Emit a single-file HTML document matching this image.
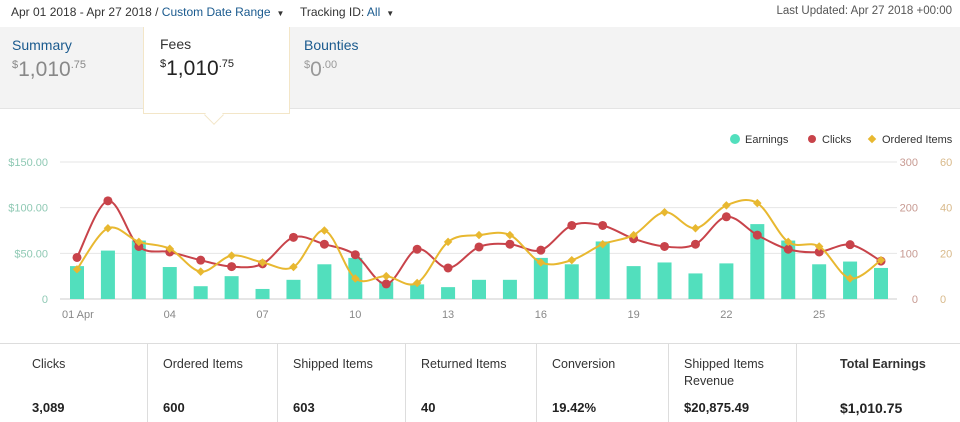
<!DOCTYPE html>
<html><head><meta charset="utf-8"><style>
*{margin:0;padding:0;box-sizing:border-box}
body{width:960px;height:422px;background:#fff;font-family:"Liberation Sans",sans-serif;color:#333;position:relative;overflow:hidden}
.a{position:absolute;white-space:nowrap}
.blue{color:#1a5a8e}
.stat{position:absolute;top:344px;height:78px;border-left:1px solid #ddd}
.stat .l{position:absolute;left:15px;top:12px;font-size:12.5px;color:#333;line-height:17px}
.stat .v{position:absolute;left:15px;top:56px;font-size:13px;font-weight:bold;color:#222}
</style></head><body>
<div class="a" style="left:11px;top:5px;font-size:12px">Apr 01 2018 - Apr 27 2018 / <span class="blue">Custom Date Range</span><span style="font-size:8px;margin-left:6px">▼</span></div>
<div class="a" style="left:300px;top:5px;font-size:12px">Tracking ID: <span class="blue">All</span><span style="font-size:8px;margin-left:6px">▼</span></div>
<div class="a" style="right:8px;top:5px;font-size:11.5px;color:#555">Last Updated: Apr 27 2018 +00:00</div>
<div class="a" style="left:0;top:27px;width:960px;height:82px;background:#f3f3f3;border-bottom:1px solid #e4e4e4"></div>
<div class="a" style="left:12px;top:37px">
<div class="blue" style="font-size:14px">Summary</div>
<div style="color:#888;font-size:21px;margin-top:5px"><sup style="font-size:11px">$</sup>1,010<sup style="font-size:11px">.75</sup></div></div>
<div class="a" style="left:143px;top:27px;width:147px;height:87px;background:#fff;border:1px solid #f3e6c8;border-top:none;padding:9px 0 0 16px">
<div style="font-size:14px">Fees</div>
<div style="color:#222;font-size:21px;margin-top:5px"><sup style="font-size:11px">$</sup>1,010<sup style="font-size:11px">.75</sup></div></div>
<div class="a" style="left:207px;top:108px;width:14px;height:14px;background:#fff;border-right:1px solid #f3e6c8;border-bottom:1px solid #f3e6c8;transform:rotate(45deg)"></div>
<div class="a" style="left:304px;top:37px">
<div class="blue" style="font-size:14px">Bounties</div>
<div style="color:#999;font-size:21px;margin-top:5px"><sup style="font-size:11px">$</sup>0<sup style="font-size:11px">.00</sup></div></div>

<svg id="chart" class="a" style="left:0;top:120px" width="960" height="220"></svg>

<div class="stat" style="left:17px;width:128px;border-left:none"><div class="l">Clicks</div><div class="v">3,089</div></div>
<div class="stat" style="left:147px;width:128px"><div class="l">Ordered Items</div><div class="v">600</div></div>
<div class="stat" style="left:277px;width:128px"><div class="l">Shipped Items</div><div class="v">603</div></div>
<div class="stat" style="left:405px;width:130px"><div class="l">Returned Items</div><div class="v">40</div></div>
<div class="stat" style="left:536px;width:128px"><div class="l">Conversion</div><div class="v">19.42%</div></div>
<div class="stat" style="left:668px;width:128px"><div class="l">Shipped Items<br>Revenue</div><div class="v">$20,875.49</div></div>
<div class="stat" style="left:796px;width:164px"><div class="l" style="left:43px;font-weight:bold">Total Earnings</div><div class="v" style="left:43px;font-size:14px">$1,010.75</div></div>
<div class="a" style="left:0;top:343px;width:960px;height:1px;background:#ddd"></div>

<script>
const days=[1,2,3,4,5,6,7,8,9,10,11,12,13,14,15,16,17,18,19,20,21,22,23,24,25,26,27];
const xLabels=["01 Apr","04","07","10","13","16","19","22","25"];
const xLabelDays=[1,4,7,10,13,16,19,22,25];
const earnings=[36,53,64,35,14,25,11,21,38,45,19,16,13,21,21,45,38,63,36,40,28,39,82,64,38,41,34];
const clicks=[91,215,115,103,85,71,77,135,120,97,33,109,68,114,120,107,161,161,132,115,120,180,140,109,103,119,83];
const ordered=[13,31,25,22,12,19,16,14,30,9,10,7,25,28,28,16,17,24,28,38,31,41,42,25,23,9,17];
const leftTicks=["0","$50.00","$100.00","$150.00"];
const leftVals=[0,50,100,150];
const clickTicks=[0,100,200,300];
const orderTicks=[0,20,40,60];

const svg=document.getElementById('chart');const NS='http://www.w3.org/2000/svg';
const top0=120,y0=299-top0,yTop=162-top0;
const xS=d=>77+(d-1)*(881-77)/26;
const yE=v=>y0-v/150*(y0-yTop);
const yC=v=>y0-v/300*(y0-yTop);
const yO=v=>y0-v/60*(y0-yTop);
function mk(t,a,p){const e=document.createElementNS(NS,t);for(const k in a)e.setAttribute(k,a[k]);(p||svg).appendChild(e);return e;}
leftVals.forEach((v,i)=>{
 const g=mk('line',{x1:60,x2:897,y1:yE(v),y2:yE(v),stroke:i==0?'#ccc':'#e6e6e6','stroke-width':1});
 
 
 const t=mk('text',{x:48,y:yE(v)+4,'text-anchor':'end','font-size':11,fill:'#8fc9b4'});t.textContent=leftTicks[i];
 
 
});
clickTicks.forEach(v=>{const t=mk('text',{x:918,y:yC(v)+4,'text-anchor':'end','font-size':11,fill:'#c79a92'});t.textContent=v;
 
 });
orderTicks.forEach(v=>{const t=mk('text',{x:940,y:yO(v)+4,'font-size':11,fill:'#d8b98a'});t.textContent=v;
 
 });
xLabelDays.forEach((d,i)=>{const t=mk('text',{x:i==0?62:xS(d),y:y0+19,'text-anchor':i==0?'start':'middle','font-size':11,fill:'#888'});t.textContent=xLabels[i];
 
 });
days.forEach((d,i)=>{const h=y0-yE(earnings[i]);const r=mk('rect',{x:xS(d)-7,y:yE(earnings[i]),width:14,height:h,fill:'#52dfbd'});
 
 });
function curve(vals,f,color,name,diamond){
 const p=vals.map((v,i)=>[xS(days[i]),f(v)]);let d='M'+p[0];
 for(let i=0;i<p.length-1;i++){const a=p[i-1]||p[i],b=p[i],c=p[i+1],e=p[i+2]||c;
  d+=` C${b[0]+(c[0]-a[0])/6},${b[1]+(c[1]-a[1])/6} ${c[0]-(e[0]-b[0])/6},${c[1]-(e[1]-b[1])/6} ${c[0]},${c[1]}`;}
 const l=mk('path',{d:d,fill:'none',stroke:color,'stroke-width':2});
 
 
 p.forEach(q=>{const m=diamond?mk('rect',{x:q[0]-3,y:q[1]-3,width:6,height:6,fill:color,transform:`rotate(45 ${q[0]} ${q[1]})`}):mk('circle',{cx:q[0],cy:q[1],r:4.5,fill:color});
  
  });
}
curve(clicks,yC,'#c8434a','clicks',false);
curve(ordered,yO,'#e8b830','ordered-items',true);
const lg=[[735,'Earnings','#52dfbd',0],[812,'Clicks','#c8434a',0],[872,'Ordered Items','#e8b830',1]];
lg.forEach(o=>{const m=o[3]?mk('rect',{x:o[0]-3,y:16,width:6,height:6,fill:o[2],transform:`rotate(45 ${o[0]} 19)`}):mk('circle',{cx:o[0],cy:19,r:o[1]=='Earnings'?5:4,fill:o[2]});
 
 
 const t=mk('text',{x:o[0]+10,y:23,'font-size':11,fill:'#333'});t.textContent=o[1];
 
 });
</script>
</body></html>
